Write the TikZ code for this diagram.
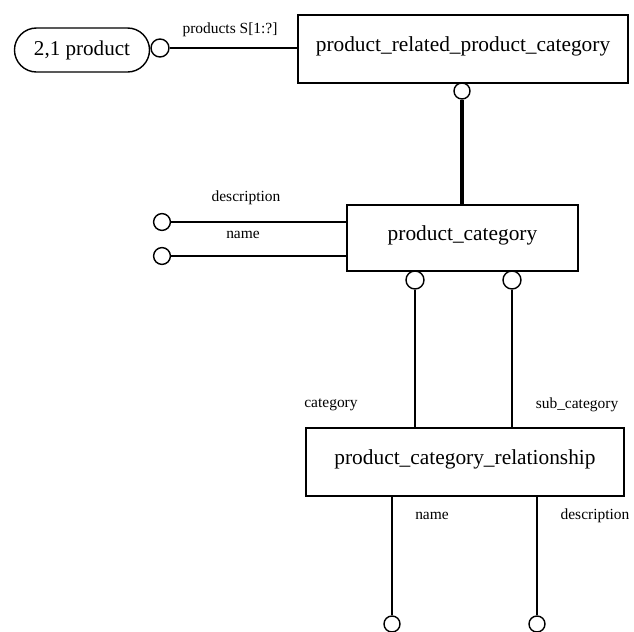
\documentclass[tikz,border=0pt]{standalone}
\usepackage{fontspec}
\setmainfont{Liberation Serif}
\usepackage{tikz}
\usetikzlibrary{positioning}
\tikzset{%
    entity/.style={draw, line width=1pt, rectangle, inner sep=0pt, text depth=0.27cm,
        font=\fontsize{15.2}{17}\selectfont},
    ref/.style={draw, line width=1pt, rounded corners=0.55cm, inner sep=0pt,
        minimum width=3.375cm, minimum height=1.1cm,
        font=\fontsize{15}{17}\selectfont},
    ring/.style={draw, line width=1pt, circle, inner sep=0pt, minimum size=#1},
    ring/.default=0.42cm,
    attr/.style={font=\fontsize{11}{13}\selectfont, inner sep=1pt},
    rel/.style={line width=1pt}
}

\begin{document}
\begin{tikzpicture}[x=0.025cm,y=-0.025cm]
  \useasboundingbox (0,0) rectangle (634,632);
  \node[ref] (product) at (82,50) {2,1 product};
  \node[ring=0.45cm] (pring) at (160,48) {};
  \node[entity, minimum width=8.25cm, minimum height=1.7cm] (prpc) at (463,49) {product\_related\_product\_category};
  \node[ring=0.4cm] (prpcring) at (462,91) {};
  \node[entity, minimum width=5.775cm, minimum height=1.65cm] (pc) at (462.5,238) {product\_category};
  \node[ring] (descring) at (162,222) {};
  \node[ring] (namering) at (162,256) {};
  \node[ring=0.45cm] (catring) at (415,280) {};
  \node[ring=0.45cm] (subring) at (512,280) {};
  \node[entity, minimum width=7.95cm, minimum height=1.7cm] (pcr) at (465,462) {product\_category\_relationship};
  \node[ring=0.4cm] (rnamering) at (392,624) {};
  \node[ring=0.4cm] (rdescring) at (537,624) {};

  \draw[rel] (pring) -- (pring -| prpc.west);
  \draw[line width=2.5pt] (prpcring) -- (prpcring |- pc.north);
  \draw[rel] (descring) -- (descring -| pc.west);
  \draw[rel] (namering) -- (namering -| pc.west);
  \draw[rel] (catring) -- (catring |- pcr.north);
  \draw[rel] (subring) -- (subring |- pcr.north);
  \draw[rel] (rnamering |- pcr.south) -- (rnamering);
  \draw[rel] (rdescring |- pcr.south) -- (rdescring);

  \node[attr] (lprod) at (230,30) {products S[1:?]};
  \node[attr] (ldesc) at (246,198) {description};
  \node[attr] (lname) at (243,235) {name};
  \node[attr] (lcat) at (331,405) {category};
  \node[attr] (lsub) at (577,405) {sub\_category};
  \node[attr] (lrname) at (432,516) {name};
  \node[attr] (lrdesc) at (595,516) {description};
\end{tikzpicture}
\end{document}
